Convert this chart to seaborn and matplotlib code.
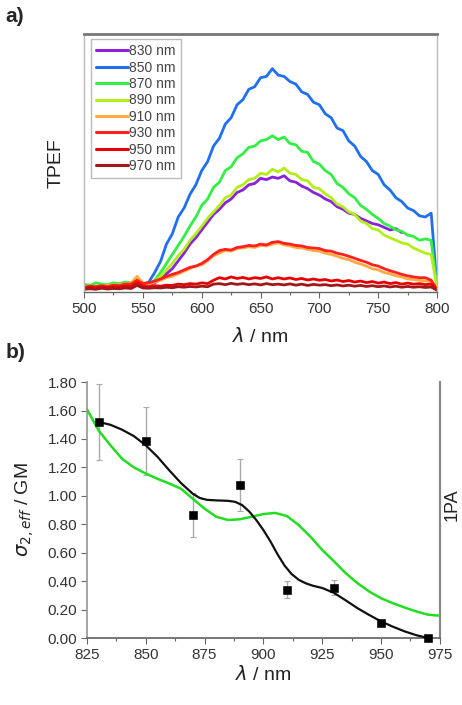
import numpy as np
import pandas as pd
import matplotlib
matplotlib.use("Agg")
import matplotlib.pyplot as plt
import seaborn as sns
from matplotlib.ticker import MultipleLocator, FormatStrFormatter

sns.set_theme(style="ticks")
plt.rcParams['font.family'] = ['Liberation Sans', 'DejaVu Sans']

# ---------------- panel a: TPEF spectra ----------------
wl = list(range(500, 805, 5))
wl_830 = list(range(555, 775, 5))

tpef_830 = [0.030, 0.035, 0.050, 0.070, 0.090, 0.120, 0.150, 0.185, 0.210, 0.240, 0.270, 0.300, 0.320, 0.345, 0.360,
            0.385, 0.395, 0.415, 0.420, 0.440, 0.435, 0.445, 0.440, 0.450, 0.430, 0.425, 0.410, 0.400, 0.385, 0.375,
            0.360, 0.350, 0.330, 0.320, 0.305, 0.300, 0.285, 0.275, 0.265, 0.260, 0.250, 0.240, 0.245, 0.230]
tpef_850 = [0.020, 0.015, 0.022, 0.018, 0.020, 0.024, 0.019, 0.026, 0.030, 0.042, 0.030, 0.038, 0.075, 0.118, 0.185,
            0.225, 0.290, 0.325, 0.378, 0.415, 0.470, 0.505, 0.565, 0.595, 0.650, 0.675, 0.725, 0.745, 0.785, 0.795,
            0.830, 0.835, 0.865, 0.840, 0.835, 0.815, 0.805, 0.775, 0.765, 0.735, 0.725, 0.690, 0.675, 0.635, 0.625,
            0.585, 0.565, 0.525, 0.505, 0.470, 0.455, 0.415, 0.395, 0.365, 0.350, 0.325, 0.315, 0.295, 0.290, 0.305,
            0.020]
tpef_870 = [0.030, 0.025, 0.035, 0.030, 0.028, 0.035, 0.032, 0.038, 0.035, 0.045, 0.030, 0.032, 0.045, 0.075, 0.110,
            0.145, 0.180, 0.215, 0.255, 0.290, 0.335, 0.360, 0.405, 0.425, 0.470, 0.485, 0.520, 0.535, 0.560, 0.565,
            0.585, 0.590, 0.605, 0.590, 0.600, 0.575, 0.570, 0.545, 0.540, 0.505, 0.495, 0.470, 0.455, 0.420, 0.405,
            0.380, 0.365, 0.335, 0.320, 0.300, 0.285, 0.265, 0.255, 0.240, 0.235, 0.220, 0.215, 0.200, 0.205, 0.200,
            0.015]
tpef_890 = [0.020, 0.022, 0.018, 0.025, 0.022, 0.028, 0.025, 0.030, 0.032, 0.050, 0.028, 0.030, 0.040, 0.060, 0.085,
            0.110, 0.140, 0.165, 0.200, 0.225, 0.255, 0.285, 0.310, 0.335, 0.365, 0.375, 0.405, 0.415, 0.435, 0.440,
            0.460, 0.455, 0.475, 0.465, 0.480, 0.460, 0.455, 0.435, 0.430, 0.405, 0.400, 0.380, 0.365, 0.340, 0.330,
            0.310, 0.300, 0.275, 0.265, 0.245, 0.240, 0.220, 0.210, 0.200, 0.190, 0.185, 0.170, 0.160, 0.150, 0.145,
            0.015]
tpef_910 = [0.020, 0.018, 0.022, 0.020, 0.025, 0.022, 0.028, 0.030, 0.035, 0.060, 0.035, 0.030, 0.038, 0.045, 0.055,
            0.060, 0.070, 0.080, 0.090, 0.100, 0.105, 0.120, 0.140, 0.150, 0.160, 0.158, 0.168, 0.170, 0.175, 0.172,
            0.180, 0.178, 0.185, 0.190, 0.182, 0.178, 0.172, 0.170, 0.165, 0.160, 0.158, 0.150, 0.145, 0.138, 0.130,
            0.125, 0.115, 0.108, 0.100, 0.090, 0.085, 0.075, 0.070, 0.062, 0.058, 0.050, 0.048, 0.045, 0.042, 0.040,
            0.010]
tpef_930 = [0.018, 0.022, 0.020, 0.024, 0.020, 0.026, 0.024, 0.030, 0.030, 0.045, 0.032, 0.035, 0.042, 0.050, 0.060,
            0.068, 0.075, 0.085, 0.095, 0.100, 0.110, 0.125, 0.145, 0.160, 0.165, 0.162, 0.172, 0.175, 0.180, 0.178,
            0.185, 0.182, 0.192, 0.195, 0.188, 0.185, 0.180, 0.178, 0.172, 0.170, 0.168, 0.160, 0.158, 0.150, 0.145,
            0.138, 0.130, 0.122, 0.115, 0.105, 0.100, 0.090, 0.082, 0.075, 0.068, 0.062, 0.058, 0.055, 0.055, 0.045,
            0.010]
tpef_950 = [0.015, 0.018, 0.015, 0.020, 0.017, 0.020, 0.018, 0.022, 0.020, 0.035, 0.022, 0.020, 0.024, 0.022, 0.026,
            0.025, 0.030, 0.028, 0.032, 0.030, 0.035, 0.032, 0.045, 0.055, 0.050, 0.058, 0.052, 0.056, 0.050, 0.055,
            0.052, 0.058, 0.050, 0.055, 0.050, 0.054, 0.048, 0.052, 0.046, 0.050, 0.045, 0.048, 0.042, 0.046, 0.040,
            0.044, 0.038, 0.042, 0.036, 0.040, 0.034, 0.038, 0.032, 0.036, 0.030, 0.034, 0.030, 0.032, 0.028, 0.030,
            0.008]
tpef_970 = [0.010, 0.012, 0.010, 0.014, 0.011, 0.013, 0.012, 0.015, 0.013, 0.025, 0.015, 0.014, 0.016, 0.015, 0.018,
            0.016, 0.020, 0.018, 0.021, 0.019, 0.022, 0.020, 0.030, 0.032, 0.028, 0.033, 0.029, 0.032, 0.028, 0.031,
            0.027, 0.032, 0.028, 0.030, 0.027, 0.031, 0.026, 0.030, 0.025, 0.029, 0.026, 0.028, 0.024, 0.027, 0.023,
            0.026, 0.022, 0.025, 0.021, 0.024, 0.020, 0.023, 0.019, 0.022, 0.018, 0.021, 0.018, 0.020, 0.017, 0.019,
            0.006]

series_labels = ['830 nm', '850 nm', '870 nm', '890 nm', '910 nm', '930 nm', '950 nm', '970 nm']
series_colors = ['#8a22d8', '#1f6ff0', '#33ee44', '#b4ee1a', '#ffaa40', '#ff2020', '#e80000', '#a01818']

# ---------------- panel b: 2PA cross section ----------------
pts_wl = [830, 850, 870, 890, 910, 930, 950, 970]
pts_sigma = [1.52, 1.386, 0.865, 1.075, 0.34, 0.355, 0.105, 0.0]
pts_err = [0.27, 0.24, 0.155, 0.185, 0.06, 0.055, 0.015, 0.0]

fit_wl = [830, 835, 840, 845, 850, 855, 860, 865, 870, 873, 876, 880, 885, 888, 891, 894, 897, 900, 903, 906,
          909, 912, 915, 918, 921, 925, 930, 935, 940, 945, 950, 955, 960, 965, 970]
fit_sigma = [1.52, 1.50, 1.465, 1.42, 1.356, 1.275, 1.18, 1.09, 1.015, 0.985, 0.972, 0.968, 0.965, 0.958, 0.935,
             0.89, 0.83, 0.76, 0.68, 0.59, 0.51, 0.45, 0.41, 0.385, 0.368, 0.352, 0.318, 0.265, 0.21, 0.162,
             0.117, 0.08, 0.047, 0.02, 0.0]

opa_wl = [825, 830, 835, 840, 845, 850, 855, 860, 865, 870, 875, 880, 885, 890, 895, 900, 905, 910, 915, 920,
          925, 930, 935, 940, 945, 950, 955, 960, 965, 970, 975]
opa_val = [1.61, 1.46, 1.356, 1.26, 1.20, 1.157, 1.12, 1.087, 1.05, 0.98, 0.91, 0.853, 0.83, 0.835, 0.853, 0.872,
           0.88, 0.858, 0.795, 0.713, 0.62, 0.54, 0.456, 0.386, 0.327, 0.28, 0.245, 0.215, 0.187, 0.164, 0.157]

# build long table for seaborn
all_y = [tpef_830, tpef_850, tpef_870, tpef_890, tpef_910, tpef_930, tpef_950, tpef_970]
rows = []
for lab, ys in zip(series_labels, all_y):
    xs = wl_830 if lab == '830 nm' else wl
    assert len(xs) == len(ys), lab
    for x, y in zip(xs, ys):
        rows.append((lab, x, y))
df_a = pd.DataFrame(rows, columns=['exc', 'wl', 'tpef'])

fig = plt.figure(figsize=(4.62, 7.05), dpi=100)
ax_a = fig.add_axes([0.182, 0.586, 0.764, 0.366])
ax_b = fig.add_axes([0.188, 0.095, 0.764, 0.363])

sns.lineplot(data=df_a, x='wl', y='tpef', hue='exc', hue_order=series_labels,
             palette=dict(zip(series_labels, series_colors)), lw=2.0, ax=ax_a, legend=False,
             estimator=None, sort=True)
ax_a.set_xlim(500, 800)
ax_a.set_ylim(0, 1.0)
ax_a.set_yticks([])
ax_a.xaxis.set_major_locator(MultipleLocator(50))
ax_a.xaxis.set_minor_locator(MultipleLocator(25))
ax_a.tick_params(axis='x', which='major', direction='out', length=4, width=0.8, color='#666666',
                 labelsize=11, labelcolor='#333333', pad=3)
ax_a.tick_params(axis='x', which='minor', direction='out', length=2.5, width=0.8, color='#666666')
ax_a.set_xlabel(r'$\lambda$ / nm', fontsize=14, labelpad=8, color='#222222')
ax_a.set_ylabel('TPEF', fontsize=14, labelpad=14, color='#222222')
for side in ['left', 'right']:
    ax_a.spines[side].set_color('#bbbbbb')
    ax_a.spines[side].set_linewidth(1.0)
ax_a.spines['top'].set_color('#777777')
ax_a.spines['top'].set_linewidth(2.0)
ax_a.spines['bottom'].set_color('#666666')
ax_a.spines['bottom'].set_linewidth(1.0)

handles = [plt.Line2D([], [], color=c, lw=2.2) for c in series_colors]
leg = ax_a.legend(handles, series_labels, loc='upper left', bbox_to_anchor=(0.0, 1.005), fontsize=10,
                  labelspacing=0.17, handlelength=2.3, handletextpad=0.1, borderpad=0.35,
                  frameon=True, fancybox=False, edgecolor='#bbbbbb', framealpha=1.0)
for t in leg.get_texts():
    t.set_color('#444444')

# panel b
ax_b.errorbar(pts_wl, pts_sigma, yerr=pts_err, fmt='none', ecolor='#aaaaaa', elinewidth=1.0,
              capsize=2.5, capthick=0.8, zorder=2)
sns.lineplot(x=opa_wl, y=opa_val, color='#22dd22', lw=1.8, ax=ax_b, zorder=3)
sns.lineplot(x=fit_wl, y=fit_sigma, color='#111111', lw=1.6, ax=ax_b, zorder=4)
sns.scatterplot(x=pts_wl, y=pts_sigma, marker='s', color='black', s=28, edgecolor='black',
                ax=ax_b, zorder=5, clip_on=False)
ax_b.set_xlim(825, 975)
ax_b.set_ylim(0, 1.80)
ax_b.xaxis.set_major_locator(MultipleLocator(25))
ax_b.xaxis.set_minor_locator(MultipleLocator(12.5))
ax_b.yaxis.set_major_locator(MultipleLocator(0.2))
ax_b.yaxis.set_major_formatter(FormatStrFormatter('%.2f'))
ax_b.tick_params(axis='both', which='major', direction='out', length=4, width=0.8, color='#666666',
                 labelsize=11, labelcolor='#333333', pad=3)
ax_b.tick_params(axis='x', which='minor', direction='out', length=2.5, width=0.8, color='#666666')
ax_b.set_xlabel(r'$\lambda$ / nm', fontsize=14, labelpad=2, color='#222222')
ax_b.set_ylabel(r'$\sigma_{2,eff}$ / GM', fontsize=14, labelpad=8, color='#222222')
ax_b.spines['top'].set_visible(False)
ax_b.spines['left'].set_color('#999999')
ax_b.spines['bottom'].set_color('#666666')
ax_b.spines['right'].set_color('#888888')
ax_b.spines['right'].set_linewidth(1.6)

fig.text(452 / 462, 1 - 505 / 705, '1PA', rotation=90, ha='center', va='center', fontsize=13, color='#222222')
fig.text(0.012, 1 - 16 / 705, 'a)', fontsize=15, fontweight='bold', ha='left', va='center')
fig.text(0.012, 1 - 352 / 705, 'b)', fontsize=15, fontweight='bold', ha='left', va='center')

fig.savefig('out.png', dpi=100)
